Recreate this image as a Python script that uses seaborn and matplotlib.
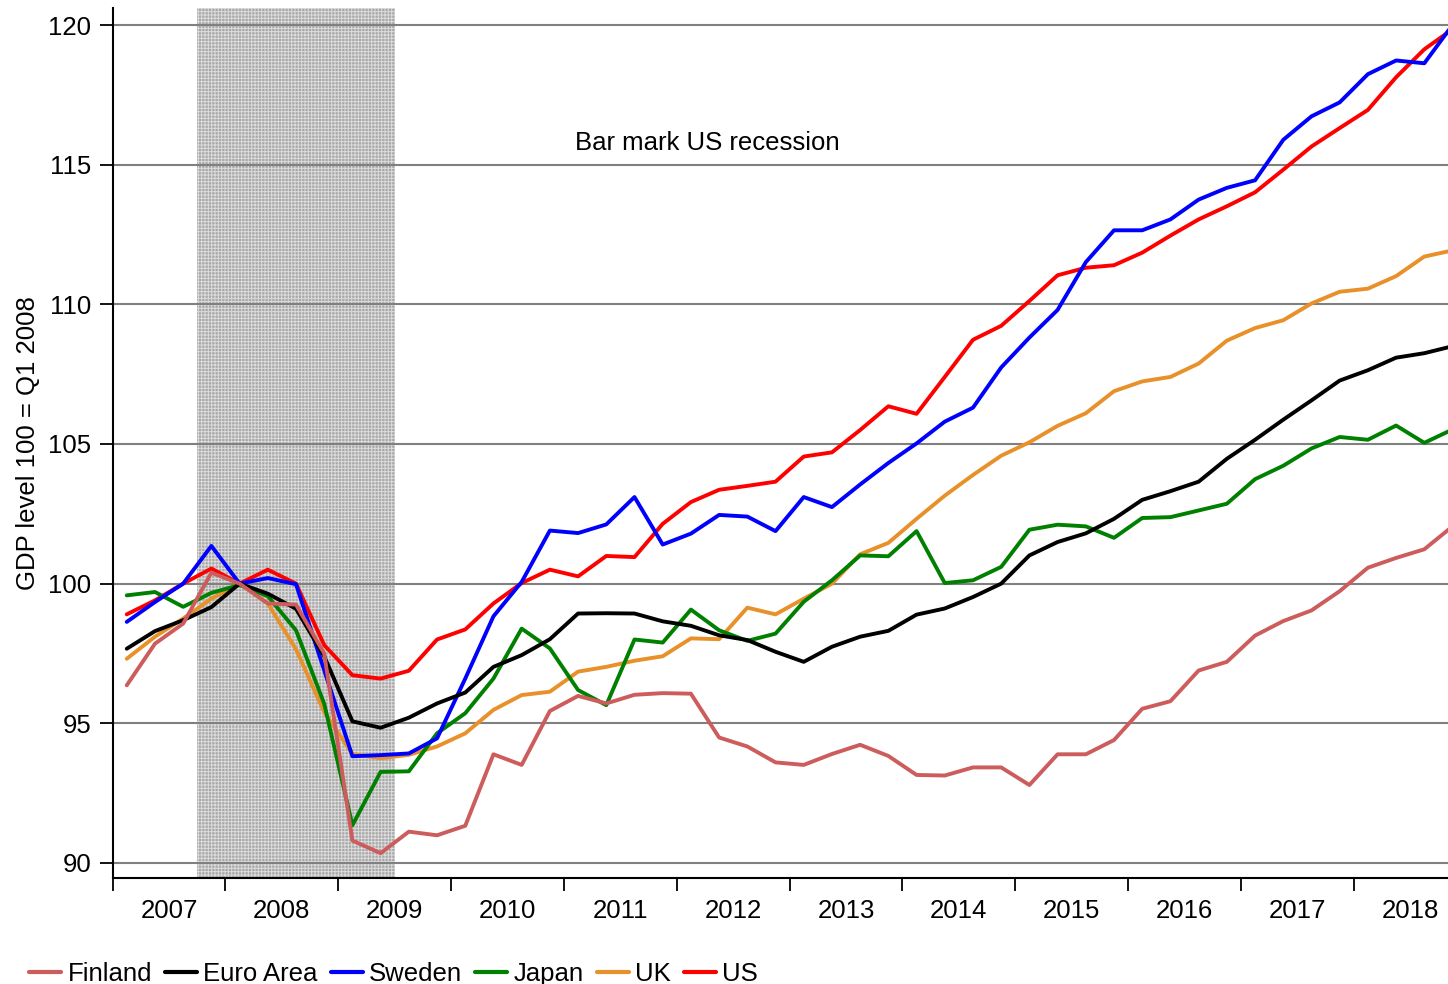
import numpy as np
import pandas as pd
import matplotlib
matplotlib.use("Agg")
import matplotlib.pyplot as plt
from matplotlib.lines import Line2D
import seaborn as sns

# ---------------- data ----------------
years = list(range(2007, 2019))
quarters = [f"{y}Q{q}" for y in years for q in range(1, 5)]

finland = [96.36, 97.85, 98.57, 100.39, 100.0, 99.29, 99.25, 97.5,
           90.8, 90.35, 91.12, 90.99, 91.33, 93.89, 93.51, 95.44,
           95.98, 95.71, 96.02, 96.08, 96.06, 94.49, 94.17, 93.6,
           93.51, 93.9, 94.23, 93.83, 93.15, 93.13, 93.42, 93.42,
           92.79, 93.89, 93.89, 94.4, 95.52, 95.79, 96.89, 97.2,
           98.14, 98.66, 99.04, 99.73, 100.57, 100.92, 101.23, 102.05]
euro_area = [97.67, 98.3, 98.69, 99.16, 100.0, 99.64, 99.1, 97.4,
             95.07, 94.84, 95.2, 95.71, 96.1, 97.02, 97.44, 98.01,
             98.93, 98.94, 98.93, 98.65, 98.49, 98.15, 97.98, 97.56,
             97.2, 97.74, 98.1, 98.31, 98.89, 99.11, 99.52, 100.0,
             101.01, 101.49, 101.8, 102.32, 103.0, 103.31, 103.65, 104.47,
             105.15, 105.87, 106.56, 107.27, 107.64, 108.09, 108.25, 108.5]
sweden = [98.63, 99.34, 100.0, 101.35, 100.0, 100.2, 99.98, 96.9,
          93.82, 93.86, 93.92, 94.46, 96.6, 98.83, 100.06, 101.9,
          101.81, 102.12, 103.1, 101.4, 101.79, 102.46, 102.4, 101.88,
          103.1, 102.74, 103.55, 104.32, 105.02, 105.8, 106.3, 107.74,
          108.81, 109.8, 111.51, 112.65, 112.65, 113.04, 113.75, 114.17,
          114.44, 115.89, 116.73, 117.23, 118.24, 118.73, 118.63, 120.0]
japan = [99.58, 99.7, 99.17, 99.67, 99.95, 99.55, 98.33, 95.7,
         91.35, 93.26, 93.28, 94.64, 95.36, 96.6, 98.39, 97.68,
         96.19, 95.65, 98.0, 97.89, 99.07, 98.33, 97.95, 98.21,
         99.35, 100.12, 101.01, 100.98, 101.88, 100.02, 100.12, 100.6,
         101.93, 102.11, 102.05, 101.64, 102.35, 102.38, 102.62, 102.86,
         103.74, 104.22, 104.84, 105.25, 105.15, 105.66, 105.04, 105.52]
uk = [97.31, 98.1, 98.75, 99.46, 100.0, 99.29, 97.65, 95.4,
      93.9, 93.75, 93.87, 94.17, 94.64, 95.48, 96.01, 96.13,
      96.85, 97.02, 97.24, 97.4, 98.04, 98.01, 99.14, 98.9,
      99.46, 100.0, 101.05, 101.46, 102.32, 103.15, 103.89, 104.58,
      105.06, 105.65, 106.1, 106.89, 107.24, 107.4, 107.88, 108.7,
      109.15, 109.43, 110.03, 110.45, 110.56, 111.01, 111.71, 111.93]
us = [98.9, 99.4, 100.0, 100.54, 100.0, 100.5, 100.0, 97.8,
      96.72, 96.6, 96.88, 98.0, 98.36, 99.29, 100.02, 100.5,
      100.26, 100.99, 100.95, 102.14, 102.92, 103.36, 103.5, 103.65,
      104.55, 104.7, 105.5, 106.35, 106.08, 107.4, 108.73, 109.23,
      110.12, 111.04, 111.31, 111.4, 111.85, 112.46, 113.04, 113.51,
      114.01, 114.82, 115.65, 116.31, 116.96, 118.13, 119.13, 119.85]

series_names = ["Finland", "Euro Area", "Sweden", "Japan", "UK", "US"]
series_values = [finland, euro_area, sweden, japan, uk, us]
colors = ["#cd5c5c", "#000000", "#0000ff", "#008000", "#e8912a", "#ff0000"]

recession_start = 2007.75   # Dec 2007
recession_end = 2009.5      # Jun 2009
annotation = "Bar mark US recession"
y_label = "GDP level 100 = Q1 2008"
y_ticks = [90, 95, 100, 105, 110, 115, 120]

# ---------------- build frame ----------------
def q_to_num(q):
    y, qq = q.split("Q")
    return int(y) + (int(qq) - 1) * 0.25 + 0.125

t = [q_to_num(q) for q in quarters]
rows = []
for name, vals in zip(series_names, series_values):
    for tt, v in zip(t, vals):
        rows.append({"time": tt, "value": v, "country": name})
df = pd.DataFrame(rows)

# ---------------- plot ----------------
sns.set_style("white")
plt.rcParams["font.family"] = ["Liberation Sans", "DejaVu Sans"]
plt.rcParams["text.color"] = "black"
plt.rcParams["axes.labelcolor"] = "black"
plt.rcParams["hatch.linewidth"] = 0.7

FS = 18.5

fig = plt.figure(figsize=(14.48, 9.84), dpi=100)
ax = fig.add_axes([0.0778, 0.1077, 0.9222, 0.8842])

ax.axvspan(recession_start, recession_end, facecolor="#a9a9a9", edgecolor="#dcdcdc",
           hatch="+++++", linewidth=0, zorder=0)

for yv in y_ticks:
    ax.axhline(yv, color="#808080", lw=1.5, zorder=1)

palette = dict(zip(series_names, colors))
sns.lineplot(data=df, x="time", y="value", hue="country",
             hue_order=series_names[::-1], palette=palette,
             linewidth=2.8, ax=ax, legend=False, zorder=3)

ax.set_xlim(2007.0, 2018.835)
ax.set_ylim(89.46, 120.61)

ax.set_yticks(y_ticks)
ax.set_yticklabels([str(v) for v in y_ticks], fontsize=FS)
ax.tick_params(axis="y", which="major", left=True, direction="out", length=9.5,
               width=1.3, pad=6, colors="black")

ax.set_xticks(years)
ax.set_xticklabels([])
ax.set_xticks([y + 0.5 for y in years], minor=True)
ax.set_xticklabels([str(y) for y in years], minor=True, fontsize=FS)
ax.tick_params(axis="x", which="major", bottom=True, direction="out", length=9,
               width=1.3, colors="black")
ax.tick_params(axis="x", which="minor", bottom=True, length=0, pad=15, colors="black")

for s in ["top", "right"]:
    ax.spines[s].set_visible(False)
for s in ["left", "bottom"]:
    ax.spines[s].set_color("black")
    ax.spines[s].set_linewidth(1.5)

ax.set_xlabel("")
ax.set_ylabel(y_label, fontsize=FS, labelpad=6, color="black")

ax.text(2011.096, 115.78, annotation, fontsize=FS, ha="left", va="center", color="black")

handles = [Line2D([0], [0], color=c, lw=3) for c in colors]
fig.legend(handles, series_names, loc="lower left", bbox_to_anchor=(0.004, -0.026),
           ncol=6, frameon=False, fontsize=FS, handlelength=1.25,
           handletextpad=0.25, columnspacing=0.5, labelcolor="black")

fig.savefig("out.png", dpi=100)
